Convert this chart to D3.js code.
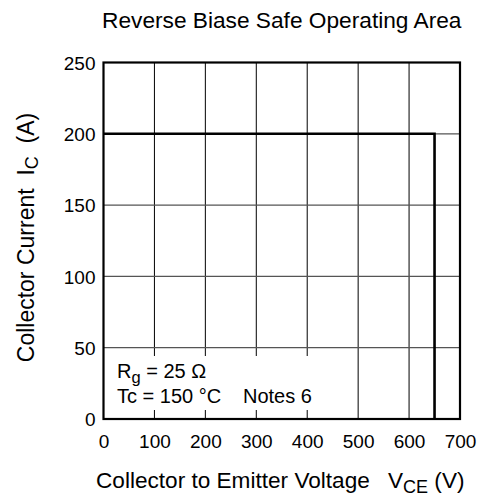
<!DOCTYPE html>
<html>
<head>
<meta charset="utf-8">
<script src="https://cdn.jsdelivr.net/npm/d3@7"></script>
<style>
  html, body { margin: 0; padding: 0; background: #fff; }
  svg { display: block; }
  text { font-family: "Liberation Sans", Arial, Helvetica, sans-serif; fill: #000; white-space: pre; }
</style>
</head>
<body>
<svg id="chart" width="483" height="500"></svg>
<script>
// ---- data ----
const titleText = "Reverse Biase Safe Operating Area";
const xTicks = [0, 100, 200, 300, 400, 500, 600, 700];
const yTicks = [0, 50, 100, 150, 200, 250];
const xDomain = [0, 700];
const yDomain = [0, 250];
// RBSOA boundary: collector-emitter voltage (V) vs collector current (A)
const soaVce = [0, 650, 650];
const soaIc  = [200, 200, 0];
const noteRg = "= 25 Ω";
const noteTc = "Tc = 150 °C";
const noteRef = "Notes 6";

// ---- layout ----
const W = 483, H = 500;
const m = { left: 103.5, right: 23, top: 62.5, bottom: 81 };
const svg = d3.select("#chart");
const x = d3.scaleLinear().domain(xDomain).range([m.left, W - m.right]);
const y = d3.scaleLinear().domain(yDomain).range([H - m.bottom, m.top]);

// grid lines
const g = svg.append("g");
g.selectAll(".vgrid").data(xTicks.slice(1, -1)).join("line")
  .attr("x1", d => x(d)).attr("x2", d => x(d))
  .attr("y1", y(yDomain[0])).attr("y2", y(yDomain[1]))
  .attr("stroke", "#000").attr("stroke-width", 1);
g.selectAll(".hgrid").data(yTicks.slice(1, -1)).join("line")
  .attr("x1", x(xDomain[0])).attr("x2", x(xDomain[1]))
  .attr("y1", d => y(d)).attr("y2", d => y(d))
  .attr("stroke", "#555").attr("stroke-width", 1.2);

// white note box (covers grid)
svg.append("rect")
  .attr("x", x(0) + 1).attr("y", 356)
  .attr("width", 226).attr("height", 54)
  .attr("fill", "#fff");

// SOA boundary
const pts = soaVce.map((v, i) => [v, soaIc[i]]);
svg.append("path")
  .attr("d", d3.line().x(d => x(d[0])).y(d => y(d[1]))(pts))
  .attr("fill", "none").attr("stroke", "#000").attr("stroke-width", 2.6);

// frame
svg.append("rect")
  .attr("x", x(0)).attr("y", y(250))
  .attr("width", x(700) - x(0)).attr("height", y(0) - y(250))
  .attr("fill", "none").attr("stroke", "#000").attr("stroke-width", 2.2);

// axes tick labels using d3 axes (no lines)
const xAxis = svg.append("g").attr("transform", `translate(0,${y(0)})`)
  .call(d3.axisBottom(x).tickValues(xTicks).tickSize(0).tickPadding(14).tickFormat(d3.format("d")));
const yAxis = svg.append("g").attr("transform", `translate(${x(0)},0)`)
  .call(d3.axisLeft(y).tickValues(yTicks).tickSize(0).tickPadding(8).tickFormat(d3.format("d")));
[xAxis, yAxis].forEach(a => {
  a.select(".domain").remove();
  a.selectAll("text").style("font-size", "19px").attr("font-family", null).style("fill", "#000");
});
xAxis.selectAll("text").attr("dy", null).attr("y", 28.5);
yAxis.selectAll("text").attr("dy", "0.36em");

// title
svg.append("text").attr("x", (x(0) + x(700)) / 2).attr("y", 28)
  .attr("text-anchor", "middle").style("font-size", "22.7px").text(titleText);

// notes
const n1 = svg.append("text").attr("x", 117).attr("y", 378).style("font-size", "20px");
n1.append("tspan").text("R");
n1.append("tspan").attr("dy", 5).style("font-size", "16.5px").text("g");
n1.append("tspan").attr("dy", -5).text(" " + noteRg);
svg.append("text").attr("x", 117).attr("y", 402.5).style("font-size", "20px").text(noteTc);
svg.append("text").attr("x", 243).attr("y", 402.5).style("font-size", "20px").text(noteRef);

// x axis label
svg.append("text").attr("x", 96).attr("y", 488).style("font-size", "22.6px")
  .text("Collector to Emitter Voltage");
const xl = svg.append("text").attr("x", 388).attr("y", 488).style("font-size", "22.6px");
xl.append("tspan").text("V");
xl.append("tspan").attr("dy", 5).style("font-size", "18px").text("CE");
xl.append("tspan").attr("dy", -5).text(" (V)");

// y axis label
const yl = svg.append("text")
  .attr("transform", `translate(34,237.5) rotate(-90)`)
  .attr("text-anchor", "middle").style("font-size", "23px");
yl.append("tspan").text("Collector Current  I");
yl.append("tspan").attr("dy", 4).style("font-size", "18px").text("C");
yl.append("tspan").attr("dy", -4).text("  (A)");
</script>
</body>
</html>
